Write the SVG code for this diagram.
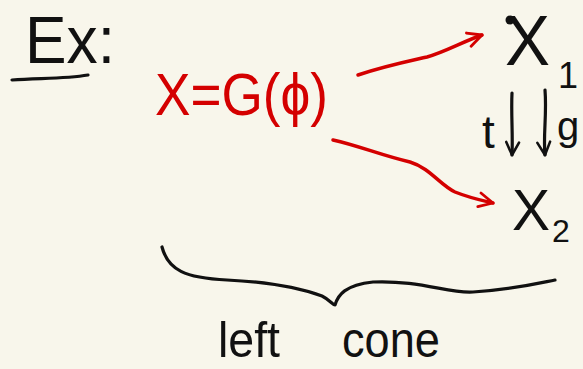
<svg xmlns="http://www.w3.org/2000/svg" width="583" height="369" viewBox="0 0 583 369">
<style>
.ink{fill:#111;font-family:"Liberation Sans","DejaVu Sans",sans-serif}
.red{fill:#d40000;font-family:"Liberation Sans","DejaVu Sans",sans-serif}
.ln{fill:none;stroke:#111;stroke-width:3.2;stroke-linecap:round;stroke-linejoin:round}
.rl{fill:none;stroke:#d40000;stroke-width:3.5;stroke-linecap:round;stroke-linejoin:round}
</style>
<defs>
<marker id="ar" viewBox="0 0 10 10" refX="9" refY="5" markerWidth="5" markerHeight="5" orient="auto" markerUnits="strokeWidth">
<path d="M1,1 L9,5 L1,9" fill="none" stroke="#d40000" stroke-width="1.6" stroke-linecap="round" stroke-linejoin="round"/>
</marker>
<marker id="ab" viewBox="0 0 10 10" refX="9" refY="5" markerWidth="5" markerHeight="5" orient="auto" markerUnits="strokeWidth">
<path d="M1,1 L9,5 L1,9" fill="none" stroke="#111" stroke-width="1.6" stroke-linecap="round" stroke-linejoin="round"/>
</marker>
</defs>
<rect width="583" height="369" fill="#f8f6eb"/>
<g id="title">
<text class="ink" x="25" y="63" font-size="66" textLength="90" lengthAdjust="spacingAndGlyphs">Ex:</text>
<path class="ln" d="M12,80 C40,78 65,79 88,75"/>
</g>
<g id="expr">
<text class="red" x="155" y="115" font-size="60" textLength="173" lengthAdjust="spacingAndGlyphs">X=G(ϕ)</text>
</g>
<g id="x1">
<circle cx="510" cy="20" r="4.5" fill="#111"/>
<text class="ink" x="505" y="65" font-size="70" textLength="45" lengthAdjust="spacingAndGlyphs">X</text>
<text class="ink" x="558" y="88" font-size="36">1</text>
</g>
<g id="x2">
<text class="ink" x="512" y="230" font-size="58" textLength="38" lengthAdjust="spacingAndGlyphs">X</text>
<text class="ink" x="552" y="242" font-size="32">2</text>
</g>
<g id="labels">
<text class="ink" x="482" y="148" font-size="46">t</text>
<text class="ink" x="557" y="140" font-size="40">g</text>
</g>
<g id="brace">
<path class="ln" d="M162,247 C168,270 185,278 227,280 C270,282 300,288 322,296 C330,300 333,305 335,305 C338,295 345,285 373,282 C420,280 450,294 473,292 C510,290 535,284 555,280"/>
<text class="ink" x="218" y="357" font-size="50" textLength="62" lengthAdjust="spacingAndGlyphs">left</text>
<text class="ink" x="342" y="357" font-size="50" textLength="98" lengthAdjust="spacingAndGlyphs">cone</text>
</g>
<g id="connectors">
<path class="rl" d="M358,75 C385,66 405,62 427,57 C445,52 462,42 482,35" marker-end="url(#ar)"/>
<path class="rl" d="M333,140 C360,146 380,155 410,162 C430,168 440,185 455,192 C470,198 480,200 493,203" marker-end="url(#ar)"/>
<path class="ln" d="M512,93 C511,115 513,135 512,155" marker-end="url(#ab)"/>
<path class="ln" d="M545,90 C547,115 543,135 545,155" marker-end="url(#ab)"/>
</g>
</svg>
